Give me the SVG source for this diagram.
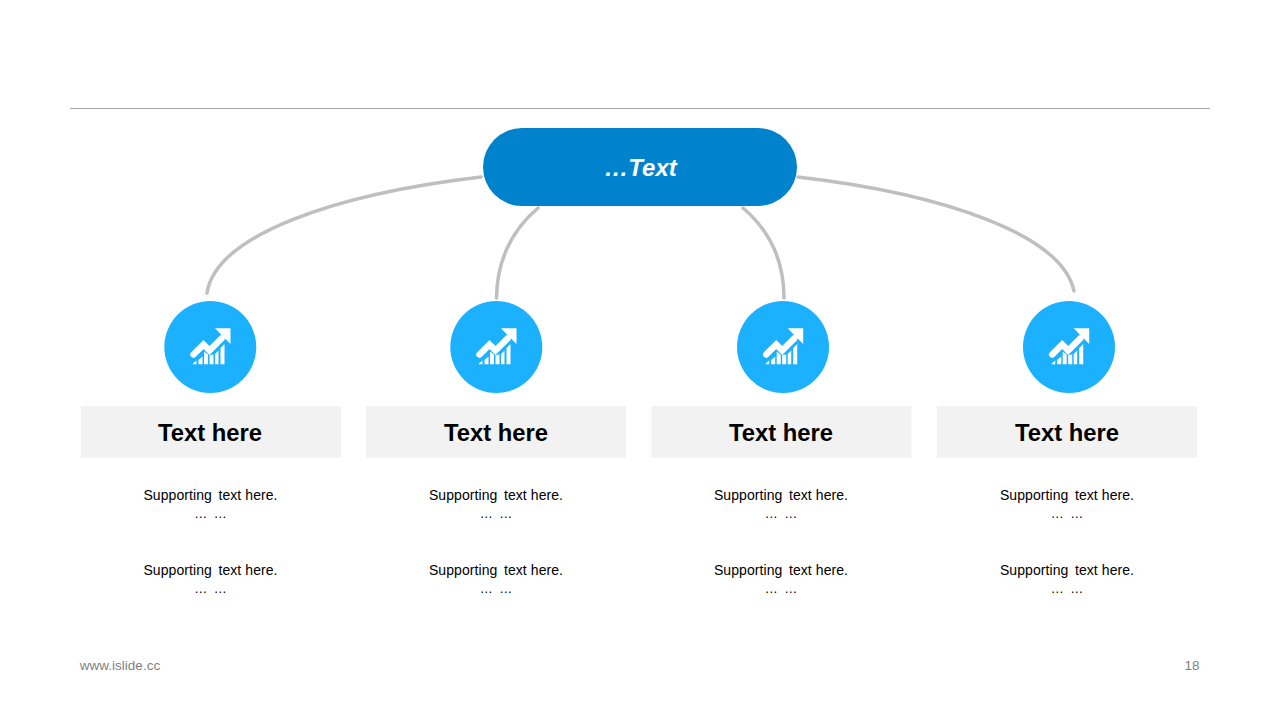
<svg xmlns="http://www.w3.org/2000/svg" xmlns:xlink="http://www.w3.org/1999/xlink" width="1280" height="720" viewBox="0 0 1280 720">
<style>
text{font-family:"Liberation Sans",Arial,sans-serif;text-anchor:middle}
.c{fill:none;stroke:#bfbfbf;stroke-width:3.500;stroke-linecap:round}
.n{fill:#1cb1ff}
.b{fill:#f2f2f2}
.h{font-size:23.800px;font-weight:bold;fill:#000}
.s{font-size:14px;fill:#000;letter-spacing:.08px}
.d{font-size:13px;fill:#000;word-spacing:3px}
.f{font-size:13.500px;fill:#7f7f7f}
</style>
<defs>
<g id="icon" fill="#fff">
<path d="M-16.500 7.500L-6.500 -2.500L-0.500 3.500L11.500 -8.500" fill="none" stroke="#fff" stroke-width="6.500" stroke-linecap="round" stroke-linejoin="miter"/>
<path d="M5 -18.700H20.500V-3L15.500 -8L10.500 -13Z"/>
<path d="M-17 17.300H-13.500V13.500L-17 16.500Z M-11.500 17.300H-7.500V9.500L-11.500 13Z M-6 17.300H-2V7.500L-6 4.500Z M-0.500 17.300H3.500V7.500L-0.500 8Z M5 17.300H8.500V3.500L5 7Z M10.500 17.300H14.500V-3L10.500 1Z"/>
</g>
</defs>
<rect width="1280" height="720" fill="#fff"/>
<line x1="70" y1="108.500" x2="1210" y2="108.500" stroke="#a6a6a6" stroke-width="1"/>
<g id="connectors">
<path class="c" d="M207 293C216 235 335 194 481 177"/>
<path class="c" d="M496.500 298C497 262 511 231 538 208"/>
<path class="c" d="M784 298C784 262 770 231 743 208"/>
<path class="c" d="M1074 291C1062 235 945 194 798 177"/>
</g>
<g id="root">
<rect x="483" y="128" width="314" height="78" rx="39" fill="#0082cd"/>
<text x="640.500" y="176" font-size="24" font-weight="bold" font-style="italic" fill="#fff">…Text</text>
</g>
<g id="node1">
<circle class="n" cx="210.300" cy="347" r="46"/>
<use xlink:href="#icon" href="#icon" x="210" y="347"/>
<rect class="b" x="81" y="406" width="260" height="51.500"/>
<text class="h" x="210" y="441">Text here</text>
<text class="s" x="210.500" y="500">Supporting <tspan dx="2.500">text here.</tspan></text>
<text class="d" x="210.500" y="518">… …</text>
<text class="s" x="210.500" y="575">Supporting <tspan dx="2.500">text here.</tspan></text>
<text class="d" x="210.500" y="593">… …</text>
</g>
<g id="node2">
<circle class="n" cx="496.300" cy="347" r="46"/>
<use xlink:href="#icon" href="#icon" x="496" y="347"/>
<rect class="b" x="366" y="406" width="260" height="51.500"/>
<text class="h" x="496" y="441">Text here</text>
<text class="s" x="496" y="500">Supporting <tspan dx="2.500">text here.</tspan></text>
<text class="d" x="496" y="518">… …</text>
<text class="s" x="496" y="575">Supporting <tspan dx="2.500">text here.</tspan></text>
<text class="d" x="496" y="593">… …</text>
</g>
<g id="node3">
<circle class="n" cx="783" cy="347" r="46"/>
<use xlink:href="#icon" href="#icon" x="782.700" y="347"/>
<rect class="b" x="651.500" y="406" width="260" height="51.500"/>
<text class="h" x="781" y="441">Text here</text>
<text class="s" x="781" y="500">Supporting <tspan dx="2.500">text here.</tspan></text>
<text class="d" x="781" y="518">… …</text>
<text class="s" x="781" y="575">Supporting <tspan dx="2.500">text here.</tspan></text>
<text class="d" x="781" y="593">… …</text>
</g>
<g id="node4">
<circle class="n" cx="1069" cy="347" r="46"/>
<use xlink:href="#icon" href="#icon" x="1068.700" y="347"/>
<rect class="b" x="937" y="406" width="260" height="51.500"/>
<text class="h" x="1067" y="441">Text here</text>
<text class="s" x="1067" y="500">Supporting <tspan dx="2.500">text here.</tspan></text>
<text class="d" x="1067" y="518">… …</text>
<text class="s" x="1067" y="575">Supporting <tspan dx="2.500">text here.</tspan></text>
<text class="d" x="1067" y="593">… …</text>
</g>
<text class="f" x="120" y="670">www.islide.cc</text>
<text class="f" x="1192" y="670">18</text>
</svg>
